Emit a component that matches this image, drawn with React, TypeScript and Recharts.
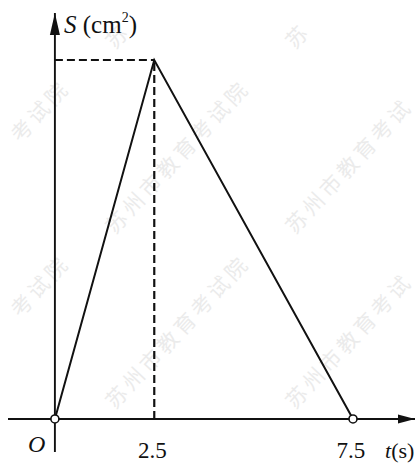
import React from "react";
import {
  ComposedChart,
  Line,
  Scatter,
  XAxis,
  YAxis,
  ReferenceLine,
  Customized,
} from "recharts";

// S(t): area grows to its maximum at t = 2.5 s, then falls back to zero at t = 7.5 s
const times = [0, 2.5, 7.5];
const areas = [0, 10, 0];
const tickLabels = [2.5, 7.5];
const openPoints = [0, 7.5];

const X_DOMAIN: [number, number] = [-1.18, 9.06];
const Y_DOMAIN: [number, number] = [-0.92, 11.31];

const curve = times.map((t, i) => ({ t, S: areas[i] }));
const hollow = openPoints.map((t) => ({ t, S: 0 }));
const peak = curve[1];

const SERIF = "'Liberation Serif', 'Times New Roman', serif";
const INK = "#111";

// watermark anchors (start of each run, text climbs up to the right)
const markCols = [-65, 115, 295];
const markRows = [50, 235, 410];
const MARK = "苏州市教育考试院";
const ANGLE = 47;
const PITCH = 25;

const Watermark = () => {
  const rad = (ANGLE * Math.PI) / 180;
  const glyphs: React.ReactNode[] = [];
  markRows.forEach((y0) =>
    markCols.forEach((x0) =>
      Array.from(MARK).forEach((ch, i) => {
        const x = x0 + i * PITCH * Math.cos(rad);
        const y = y0 - i * PITCH * Math.sin(rad);
        // rotated glyph box leans left and up from its anchor; keep whole glyphs only
        if (x < 18 || x > 398 || y < 32 || y > 460) return;
        glyphs.push(
          <text
            key={`${x0}-${y0}-${i}`}
            x={x}
            y={y}
            transform={`rotate(-${ANGLE} ${x} ${y})`}
            fontFamily="'Noto Sans CJK SC', sans-serif"
            fontSize={21}
            fill="#ebebeb"
          >
            {ch}
          </text>
        );
      })
    )
  );
  return <g>{glyphs}</g>;
};

const Labels = () => (
  <g fontFamily={SERIF} fill={INK}>
    <text x={64} y={33} fontSize={25}>
      <tspan fontStyle="italic">S</tspan>
      <tspan> (cm</tspan>
      <tspan fontSize={14} dy={-11}>2</tspan>
      <tspan dy={11}>)</tspan>
    </text>
    <text x={28} y={452} fontSize={24} fontStyle="italic">O</text>
    <text x={385} y={458} fontSize={22}>
      <tspan fontStyle="italic">t</tspan>
      <tspan>(s)</tspan>
    </text>
  </g>
);

const TickText = (props: any) => (
  <text
    x={props.x - 2}
    y={458}
    textAnchor="middle"
    fontFamily={SERIF}
    fontSize={23}
    fill={INK}
  >
    {props.payload.value}
  </text>
);

const UpArrow = (p: any) => (
  <path d={`M${p.cx},${p.cy} L${p.cx - 5},${p.cy + 22} L${p.cx + 5},${p.cy + 22} Z`} fill={INK} />
);

const RightArrow = (p: any) => (
  <path d={`M${p.cx},${p.cy} L${p.cx - 17},${p.cy - 4.5} L${p.cx - 17},${p.cy + 4.5} Z`} fill={INK} />
);

const OpenDot = (p: any) => (
  <circle cx={p.cx} cy={p.cy} r={4} fill="#fff" stroke={INK} strokeWidth={1.6} />
);

export default function App() {
  return (
    <div style={{ position: "absolute", left: 0, top: 0, background: "#fff" }}>
      <ComposedChart
        width={417}
        height={463}
        margin={{ top: 13, right: 2, bottom: 0, left: 8 }}
      >
        <Customized component={Watermark} />
        <XAxis
          type="number"
          dataKey="t"
          domain={X_DOMAIN}
          ticks={tickLabels}
          axisLine={false}
          tickLine={false}
          height={11}
          tick={<TickText />}
          allowDataOverflow
        />
        <YAxis type="number" dataKey="S" domain={Y_DOMAIN} hide allowDataOverflow />

        <ReferenceLine y={0} stroke={INK} strokeWidth={1.9} />
        <ReferenceLine x={0} stroke={INK} strokeWidth={1.9} />
        <ReferenceLine
          segment={[{ x: 0, y: peak.S }, { x: peak.t, y: peak.S }]}
          stroke={INK}
          strokeWidth={2.2}
          strokeDasharray="8 4"
        />
        <ReferenceLine
          segment={[{ x: peak.t, y: 0 }, { x: peak.t, y: peak.S }]}
          stroke={INK}
          strokeWidth={2.2}
          strokeDasharray="8 4"
        />

        <Line
          data={curve}
          dataKey="S"
          type="linear"
          stroke={INK}
          strokeWidth={2}
          dot={false}
          isAnimationActive={false}
        />

        <Scatter data={[{ t: X_DOMAIN[1], S: 0 }]} dataKey="S" shape={RightArrow} isAnimationActive={false} />
        <Scatter data={[{ t: 0, S: Y_DOMAIN[1] }]} dataKey="S" shape={UpArrow} isAnimationActive={false} />
        <Scatter data={hollow} dataKey="S" shape={OpenDot} isAnimationActive={false} />

        <Customized component={Labels} />
      </ComposedChart>
    </div>
  );
}
